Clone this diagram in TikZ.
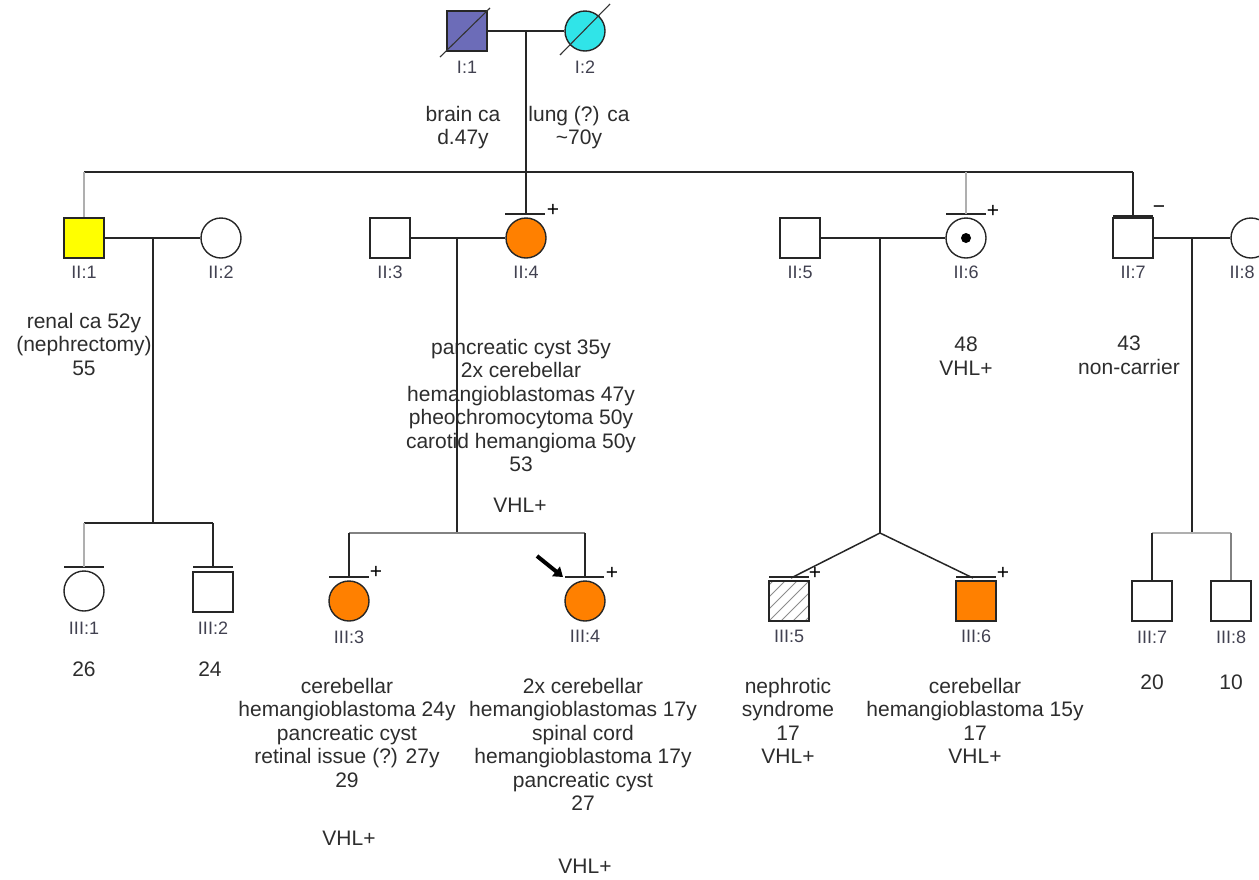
\documentclass[tikz,border=0pt]{standalone}
\usepackage{fontspec}
\setmainfont{Liberation Sans}
\usetikzlibrary{arrows.meta}
\definecolor{orng}{RGB}{255,128,0}
\definecolor{yel}{RGB}{255,255,0}
\definecolor{slate}{RGB}{108,108,184}
\definecolor{cyn}{RGB}{48,228,232}
\definecolor{ink}{RGB}{45,45,45}
\definecolor{lblc}{RGB}{65,65,80}
\definecolor{faintc}{RGB}{175,175,175}
\definecolor{midc}{RGB}{130,130,130}
\newcommand{\notefont}{\fontsize{21}{23.4}\selectfont}
\newcommand{\lblfont}{\fontsize{18}{20}\selectfont}
\begin{document}
\begin{tikzpicture}[x=1pt,y=-1pt,
  male/.style={draw=black!85, rectangle, minimum size=40pt, inner sep=0pt, line width=1.4pt},
  female/.style={draw=black!85, circle, minimum size=40pt, inner sep=0pt, line width=1.4pt},
  lbl/.style={font=\lblfont, text=lblc, inner sep=0pt},
  note/.style={font=\notefont, text=ink, align=center, inner sep=0pt},
  notetop/.style={note, anchor=north},
  sign/.style={font=\notefont, text=black, inner sep=0pt},
  rel/.style={line width=1.5pt, draw=black!85},
  faint/.style={line width=1.1pt, draw=faintc},
  midline/.style={line width=1.2pt, draw=midc},
  evalbar/.style={line width=1.6pt, draw=black!85},
  slash/.style={line width=1.1pt, draw=black!80},
  hatch/.style={line width=0.8pt, draw=black!45}
]
\useasboundingbox (0,0) rectangle (1259,879);
\clip (0,0) rectangle (1259,879);

% ---------- Generation I ----------
\node[male, fill=slate] (i1) at (467,31) {};
\node[female, fill=cyn] (i2) at (585,31) {};
\draw[slash] (i1.center) ++(-27,26) -- ++(50,-49);
\draw[slash] (i2.center) ++(-25,24) -- ++(50,-51);
\node[lbl] (i1l) at (467,67) {I:1};
\node[lbl] (i2l) at (585,67) {I:2};
\node[notetop] (i1n) at (463,106) {brain ca\\d.47y};
\node[notetop] (i2n) at (579,106) {lung (?) ca\\\textasciitilde70y};
\draw[rel] (i1.east) -- (i2.west);
\coordinate (mI) at (526,31);
\coordinate (sI1) at (84,172);
\coordinate (sI7) at (1133,172);
\coordinate (sI6) at (966,172);
\draw[rel] (sI1) -- (sI7);

% ---------- Generation II ----------
\node[male, fill=yel] (ii1) at (84,238) {};
\node[female] (ii2) at (221,238) {};
\node[male] (ii3) at (390,238) {};
\node[female, fill=orng] (ii4) at (526,238) {};
\node[male] (ii5) at (800,238) {};
\node[female] (ii6) at (966,238) {};
\fill[black] (ii6.center) circle (5);
\node[male] (ii7) at (1133,238) {};
\node[female] (ii8) at (1251,238) {};

\node[lbl] (ii1l) at (84,272) {II:1};
\node[lbl] (ii2l) at (221,272) {II:2};
\node[lbl] (ii3l) at (390,272) {II:3};
\node[lbl] (ii4l) at (526,272) {II:4};
\node[lbl] (ii5l) at (800,272) {II:5};
\node[lbl] (ii6l) at (966,272) {II:6};
\node[lbl] (ii7l) at (1133,272) {II:7};
\node[lbl] (ii8l) at (1242,272) {II:8};

% evaluation bars and signs
\coordinate (b4) at (526,214);
\coordinate (b6) at (966,214);
\coordinate (b7) at (1133,216);
\draw[evalbar] (505,214) -- (545,214);
\draw[evalbar] (946,214) -- (986,214);
\draw[evalbar] (1113,216) -- (1153,216);
\node[sign] (ii4s) at (553,210) {+};
\node[sign] (ii6s) at (993,211) {+};
\node[sign] (ii7s) at (1159,210) {\textminus};

% descent from generation I
\draw[rel] (mI) -- (b4);
\draw[faint] (sI1) -- (ii1.north);
\draw[faint] (sI6) -- (b6);
\draw[rel] (sI7) -- (b7);

% marriages
\draw[rel] (ii1.east) -- (ii2.west);
\draw[rel] (ii3.east) -- (ii4.west);
\draw[rel] (ii5.east) -- (ii6.west);
\draw[rel] (ii7.east) -- (ii8.west);
\coordinate (m12) at (153,238);
\coordinate (m34) at (457,238);
\coordinate (m56) at (880,238);
\coordinate (m78) at (1192,238);

% notes generation II
\node[notetop] (ii1n) at (84,313) {renal ca 52y\\(nephrectomy)\\55};
\node[notetop] (ii4n) at (521,339) {pancreatic cyst 35y\\2x cerebellar\\hemangioblastomas 47y\\pheochromocytoma 50y\\carotid hemangioma 50y\\53};
\node[note] (ii4v) at (520,505) {VHL+};
\node[notetop] (ii6n) at (966,337) {48\\VHL+};
\node[notetop] (ii7n) at (1129,336) {43\\non-carrier};

% ---------- Generation III ----------
\node[female] (iii1) at (84,591) {};
\node[male] (iii2) at (213,592) {};
\node[female, fill=orng] (iii3) at (349,601) {};
\node[female, fill=orng] (iii4) at (585,601) {};
\node[male, path picture={
    \foreach \k in {-36,-24,...,36}
      \draw[hatch] ([xshift=\k pt]path picture bounding box.south west) -- ++(45pt,45pt);
  }] (iii5) at (789,601) {};
\node[male, fill=orng] (iii6) at (976,601) {};
\node[male] (iii7) at (1152,601) {};
\node[male] (iii8) at (1231,601) {};

\node[lbl] (iii1l) at (84,628) {III:1};
\node[lbl] (iii2l) at (213,628) {III:2};
\node[lbl] (iii3l) at (349,637) {III:3};
\node[lbl] (iii4l) at (585,636) {III:4};
\node[lbl] (iii5l) at (789,636) {III:5};
\node[lbl] (iii6l) at (976,636) {III:6};
\node[lbl] (iii7l) at (1152,637) {III:7};
\node[lbl] (iii8l) at (1231,637) {III:8};

% evaluation bars
\coordinate (c1) at (84,567);
\coordinate (c2) at (213,567);
\coordinate (c3) at (349,577);
\coordinate (c4) at (585,577);
\coordinate (c5) at (791,578);
\coordinate (c6) at (973,578);
\draw[evalbar] (64,567) -- (104,567);
\draw[evalbar] (193,567) -- (233,567);
\draw[evalbar] (329,577) -- (369,577);
\draw[evalbar] (565,577) -- (604,577);
\draw[evalbar] (769,577) -- (809,577);
\draw[evalbar] (956,577) -- (996,577);
\node[sign] (iii3s) at (376,572) {+};
\node[sign] (iii4s) at (612,573) {+};
\node[sign] (iii5s) at (815,573) {+};
\node[sign] (iii6s) at (1003,573) {+};

% sibships
\coordinate (s12) at (153,523);
\coordinate (s1) at (84,523);
\coordinate (s2) at (213,523);
\draw[rel] (m12) -- (s12);
\draw[rel] (s1) -- (s2);
\draw[faint] (s1) -- (c1);
\draw[rel] (s2) -- (c2);

\coordinate (s34) at (457,533);
\coordinate (s3) at (349,533);
\coordinate (s4) at (585,533);
\draw[rel] (m34) -- (s34);
\draw[midline] (s3) -- (s4);
\draw[rel] (s3) -- (c3);
\draw[rel] (s4) -- (c4);

\coordinate (s56) at (880,533);
\draw[rel] (m56) -- (s56);
\draw[rel] (s56) -- (c5);
\draw[rel] (s56) -- (c6);

\coordinate (s78) at (1192,533);
\coordinate (s7) at (1152,533);
\coordinate (s8) at (1231,533);
\draw[rel] (m78) -- (s78);
\draw[faint] (s7) -- (s8);
\draw[rel] (s7) -- (iii7.north);
\draw[midline] (s8) -- (iii8.north);

% proband arrow
\coordinate (pa) at (537,556);
\coordinate (pb) at (563,577);
\draw[line width=4pt, -{Triangle[length=9pt,width=12pt]}] (pa) -- (pb);

% notes generation III
\node[note] (iii1n) at (84,669) {26};
\node[note] (iii2n) at (210,669) {24};
\node[note] (iii7n) at (1152,682) {20};
\node[note] (iii8n) at (1231,682) {10};
\node[notetop] (iii3n) at (347,678) {cerebellar\\hemangioblastoma 24y\\pancreatic cyst\\retinal issue (?) 27y\\29};
\node[note] (iii3v) at (349,838) {VHL+};
\node[notetop] (iii4n) at (583,678) {2x cerebellar\\hemangioblastomas 17y\\spinal cord\\hemangioblastoma 17y\\pancreatic cyst\\27};
\node[note] (iii4v) at (585,866) {VHL+};
\node[notetop] (iii5n) at (788,678) {nephrotic\\syndrome\\17\\VHL+};
\node[notetop] (iii6n) at (975,678) {cerebellar\\hemangioblastoma 15y\\17\\VHL+};
\end{tikzpicture}
\end{document}
